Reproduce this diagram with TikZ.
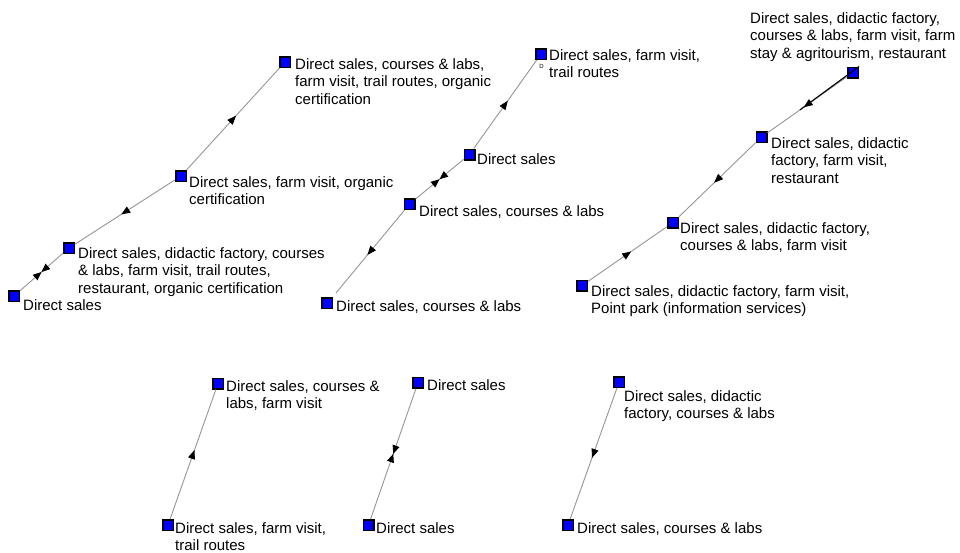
\documentclass[tikz,border=0pt]{standalone}
\usepackage{fontspec}
\setmainfont{Liberation Sans}
\usetikzlibrary{arrows.meta,decorations.markings,calc}
\definecolor{edgegray}{RGB}{150,150,150}
\definecolor{sqblue}{RGB}{0,0,255}
\tikzset{
  sq/.style={rectangle,draw=black,line width=1.5pt,fill=sqblue,minimum size=10.5pt,inner sep=0pt},
  lbl/.style={anchor=north west,inner sep=0pt,align=left,font=\fontsize{15}{17.5}\selectfont},
  tinylbl/.style={inner sep=0pt,font=\fontsize{6}{7}\selectfont},
  edge/.style={draw=edgegray,line width=0.9pt},
  fwdmid/.style={postaction={decorate},decoration={markings,
    mark=at position 0.5 with {\arrow[xshift=4.5pt]{Triangle[length=9pt,width=7pt,color=black]}}}},
  bowmid/.style={postaction={decorate},decoration={markings,
    mark=at position 0.5 with {\arrow{Triangle[length=8.5pt,width=7pt,color=black]}},
    mark=at position 0.5 with {\arrowreversed{Triangle[length=8.5pt,width=7pt,color=black]}}}},
}
\begin{document}
\begin{tikzpicture}[x=1pt,y=-1pt]
\fill[white] (0,0) rectangle (960,552);
\useasboundingbox (0,0) rectangle (960,552);

% group A
\node[sq] (a1) at (14,296) {};
\node[sq] (a2) at (69,248) {};
\node[sq] (a3) at (181,176) {};
\node[sq] (a4) at (285,62) {};
\node[lbl] (la1) at (23,299) {Direct sales};
\node[lbl] (la2) at (78,247) {Direct sales, didactic factory, courses\\\& labs, farm visit, trail routes,\\restaurant, organic certification};
\node[lbl] (la3) at (189,176) {Direct sales, farm visit, organic\\certification};
\node[lbl] (la4) at (295,58) {Direct sales, courses \& labs,\\farm visit, trail routes, organic\\certification};

% group B
\node[sq] (b1) at (327,303) {};
\node[sq] (b2) at (409.5,204) {};
\node[sq] (b3) at (469.5,154.5) {};
\node[sq] (b4) at (541,54) {};
\coordinate (b1e) at (336,293);
\node[lbl] (lb1) at (336,300) {Direct sales, courses \& labs};
\node[lbl] (lb2) at (419,205) {Direct sales, courses \& labs};
\node[lbl] (lb3) at (477,153) {Direct sales};
\node[lbl] (lb4) at (549,49) {Direct sales, farm visit,\\trail routes};
\node[tinylbl] (lb4d) at (541.5,66) {D};

% group C
\node[sq] (c1) at (582,285.5) {};
\node[sq] (c2) at (673,222.5) {};
\node[sq] (c3) at (761.5,137) {};
\node[sq] (c4) at (853,72.5) {};
\coordinate (c4b) at ($(c4)!0.58!(c3)$);
\node[lbl] (lc1) at (591,285) {Direct sales, didactic factory, farm visit,\\Point park (information services)};
\node[lbl] (lc2) at (680,222) {Direct sales, didactic factory,\\courses \& labs, farm visit};
\node[lbl] (lc3) at (771,137) {Direct sales, didactic\\factory, farm visit,\\restaurant};
\node[lbl] (lc4) at (750,12) {Direct sales, didactic factory,\\courses \& labs, farm visit, farm\\stay \& agritourism, restaurant};

% group D
\node[sq] (d1) at (168,525) {};
\node[sq] (d2) at (218,383.5) {};
\node[lbl] (ld1) at (175,522) {Direct sales, farm visit,\\trail routes};
\node[lbl] (ld2) at (226,380) {Direct sales, courses \&\\labs, farm visit};

% group E
\node[sq] (e1) at (368.5,525) {};
\node[sq] (e2) at (418,382.7) {};
\node[lbl] (le1) at (376,522) {Direct sales};
\node[lbl] (le2) at (427,379) {Direct sales};

% group F
\node[sq] (f1) at (568,525) {};
\node[sq] (f2) at (619,382.3) {};
\node[lbl] (lf1) at (577,522) {Direct sales, courses \& labs};
\node[lbl] (lf2) at (624,390) {Direct sales, didactic\\factory, courses \& labs};

% edges
\draw[edge,bowmid] (a1) -- (a2);
\draw[edge,fwdmid] (a3) -- (a2);
\draw[edge,fwdmid] (a3) -- (a4);

\draw[edge,fwdmid] (b2) -- (b1e);
\draw[edge,bowmid] (b2) -- (b3);
\draw[edge,fwdmid] (b3) -- (b4);

\draw[edge,fwdmid] (c4) -- (c3);
\draw[black,line width=1.1pt] (c4.north east) -- (c4b);
\draw[edge,fwdmid] (c3) -- (c2);
\draw[edge,fwdmid] (c1) -- (c2);

\draw[edge,fwdmid] (d1) -- (d2);
\draw[edge,bowmid] (e1) -- (e2);
\draw[edge,fwdmid] (f2) -- (f1);
\end{tikzpicture}
\end{document}
